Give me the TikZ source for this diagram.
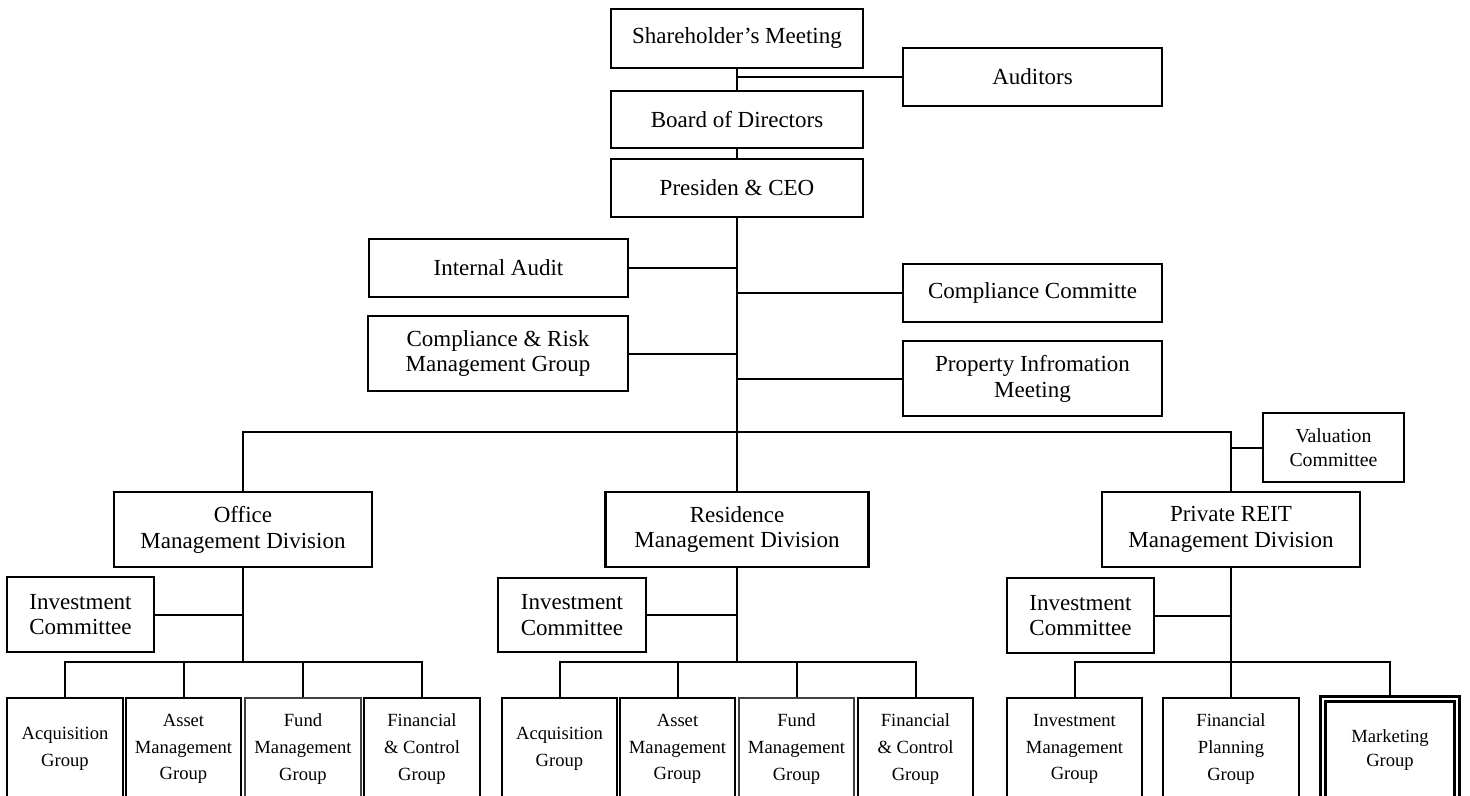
\documentclass[tikz,border=0pt]{standalone}
\usepackage{fontspec}
\setmainfont{Liberation Serif}
\begin{document}
\begin{tikzpicture}[x=0.5pt,y=-0.5pt,
  bx/.style={draw,line width=1.1pt,align=center,inner sep=0pt,rectangle},
  fundbox/.style={bx,line width=0.8pt,draw=black!75},
  mktbox/.style={bx,line width=1.3pt,double,double distance=1.2pt},
  wh/.style 2 args={minimum width=#1*0.5pt,minimum height=#2*0.5pt},
  ft/.style={font=\fontsize{11.5}{12.9}\selectfont},
  fs/.style={font=\fontsize{9.3}{13.3}\selectfont},
  fm/.style={font=\fontsize{9.3}{11.7}\selectfont},
  fv/.style={font=\fontsize{9.9}{12.2}\selectfont},
  ln/.style={line width=1pt}]
\useasboundingbox (0,0) rectangle (1470,796);
\clip (0,0) rectangle (1470,796);
\fill[white] (0,0) rectangle (1470,796);

% top column
\node[bx,ft,wh={252}{59}] (sh)  at (737,38.5)   {Shareholder’s Meeting};
\node[bx,ft,wh={259}{58}] (aud) at (1032.5,77)  {Auditors};
\node[bx,ft,wh={252}{57}] (bod) at (737,119.5)  {Board of Directors};
\node[bx,ft,wh={252}{58}] (ceo) at (737,188)    {Presiden \& CEO};

% staff functions
\node[bx,ft,wh={259}{58}] (ia)  at (498.5,268)   {Internal Audit};
\node[bx,ft,wh={260}{75}] (crm) at (498,353.5)   {Compliance \& Risk\\Management Group};
\node[bx,ft,wh={259}{58}] (cc)  at (1032.5,293)  {Compliance Committe};
\node[bx,ft,wh={259}{75}] (pim) at (1032.5,378.5){Property Infromation\\Meeting};
\node[bx,fv,wh={141}{69}] (val) at (1333.5,447.5){Valuation\\Committee};

% divisions
\node[bx,ft,wh={258}{75}] (omd) at (243,529.5)  {Office\\Management Division};
\node[bx,ft,wh={263}{75}] (rmd) at (737,529.5)  {Residence\\Management Division};
\node[bx,ft,wh={258}{75}] (pmd) at (1231,529.5) {Private REIT\\Management Division};

% investment committees
\node[bx,ft,wh={147}{75}] (ico) at (80.5,614.5)  {Investment\\Committee};
\node[bx,ft,wh={148}{74}] (icr) at (572,615)     {Investment\\Committee};
\node[bx,ft,wh={147}{75}] (icp) at (1080.5,615.5){Investment\\Committee};

% office groups
\node[bx,fs,wh={116}{102}]      (o1) at (65,749)    {Acquisition\\Group};
\node[bx,fs,wh={115}{102}]      (o2) at (183.5,749) {Asset\\Management\\Group};
\node[fundbox,fs,wh={116}{102}] (o3) at (303,749)   {Fund\\Management\\Group};
\node[bx,fs,wh={116}{102}]      (o4) at (422,749)   {Financial\\\& Control\\Group};

% residence groups
\node[bx,fs,wh={115}{102}]      (r1) at (559.5,749) {Acquisition\\Group};
\node[bx,fs,wh={115}{102}]      (r2) at (677.5,749) {Asset\\Management\\Group};
\node[fundbox,fs,wh={115}{102}] (r3) at (796.5,749) {Fund\\Management\\Group};
\node[bx,fs,wh={115}{102}]      (r4) at (915.5,749) {Financial\\\& Control\\Group};

% private REIT groups
\node[bx,fs,wh={135}{102}]       (p1)  at (1074.5,749) {Investment\\Management\\Group};
\node[bx,fs,wh={136}{102}]       (p2)  at (1231,749)   {Financial\\Planning\\Group};
\node[mktbox,fm,wh={134.5}{102}] (mkt) at (1390,750)   {Marketing\\Group};

% connectors: top
\draw[ln] (sh.south) -- (bod.north);
\draw[ln] (aud.west) -- (aud.west -| sh.south);
\draw[ln] (bod.south) -- (ceo.north);
\draw[ln] (ceo.south) -- (rmd.north);
\draw[ln] (ia.east)  -- (ia.east  -| ceo.south);
\draw[ln] (crm.east) -- (crm.east -| ceo.south);
\draw[ln] (cc.west)  -- (cc.west  -| ceo.south);
\draw[ln] (pim.west) -- (pim.west -| ceo.south);

% division bar
\coordinate (bar) at (737,432);
\draw[ln] (omd.north) |- (bar) -| (pmd.north);
\draw[ln] (val.west) -- (val.west -| pmd.north);

% office branch
\coordinate (ob) at (243,662);
\draw[ln] (omd.south) -- (ob);
\draw[ln] (ico.east) -- (ico.east -| omd.south);
\draw[ln] (o1.north) |- (ob) -| (o4.north);
\draw[ln] (o2.north) -- (o2.north |- ob);
\draw[ln] (o3.north) -- (o3.north |- ob);

% residence branch
\coordinate (rb) at (737,662);
\draw[ln] (rmd.south) -- (rb);
\draw[ln] (icr.east) -- (icr.east -| rmd.south);
\draw[ln] (r1.north) |- (rb) -| (r4.north);
\draw[ln] (r2.north) -- (r2.north |- rb);
\draw[ln] (r3.north) -- (r3.north |- rb);

% private REIT branch
\coordinate (pb) at (1231,662);
\draw[ln] (pmd.south) -- (p2.north);
\draw[ln] (icp.east) -- (icp.east -| pmd.south);
\draw[ln] (p1.north) |- (pb) -| (mkt.north);
\end{tikzpicture}
\end{document}
